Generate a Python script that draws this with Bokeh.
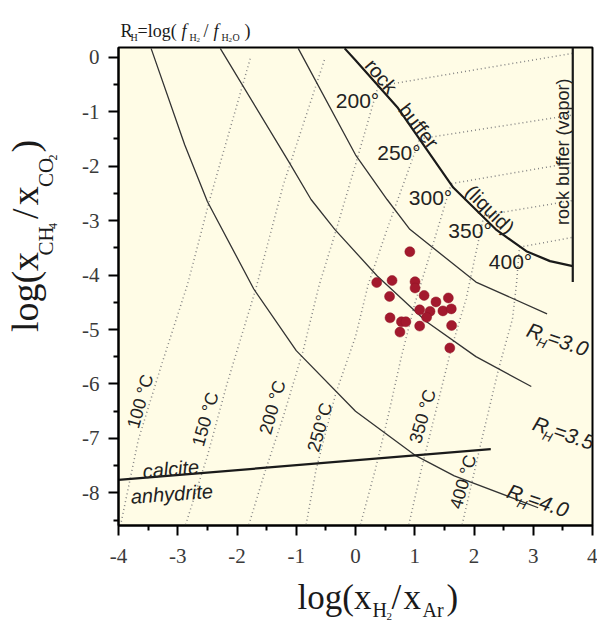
import math
from bokeh.plotting import figure
from bokeh.layouts import column, row
from bokeh.models import Range1d, FixedTicker
from bokeh.core.properties import value
from bokeh.embed import file_html
from bokeh.resources import INLINE

# ---------------- data ----------------
x_ticks = [-4, -3, -2, -1, 0, 1, 2, 3, 4]
x_tick_labels = ["-4", "-3", "-2", "-1", "0", "1", "2", "3", "4"]
x_minor = [-3.5, -2.5, -1.5, -0.5, 0.5, 1.5, 2.5, 3.5]
y_ticks = [0, -1, -2, -3, -4, -5, -6, -7, -8]
y_tick_labels = ["0", "-1", "-2", "-3", "-4", "-5", "-6", "-7", "-8"]
y_minor = [-0.5, -1.5, -2.5, -3.5, -4.5, -5.5, -6.5, -7.5, -8.5]

# iso-R_H curves
rh30_x = [-0.967, 0.0, 0.533, 0.917, 2.033, 3.233]
rh30_y = [0.164, -1.790, -2.612, -3.160, -4.128, -4.712]
rh35_x = [-2.283, -1.117, -0.75, -0.35, 0.367, 1.2, 2.033, 2.967]
rh35_y = [0.164, -1.936, -2.612, -3.160, -4.018, -4.858, -5.498, -6.046]
rh40_x = [-3.45, -2.883, -2.5, -1.717, -1.0, 0.0, 1.0, 1.667, 3.083]
rh40_y = [0.164, -1.607, -2.648, -4.256, -5.388, -6.502, -7.306, -7.689, -8.274]

# rock buffer (liquid) and rock buffer (vapor)
buf_liq_x = [-0.183, 0.0, 0.717, 1.65, 2.367, 2.883, 3.283, 3.667]
buf_liq_y = [0.164, -0.055, -0.932, -2.393, -3.160, -3.562, -3.744, -3.836]
buf_vap_x = [3.667, 3.667]
buf_vap_y = [0.18, -4.128]

# calcite / anhydrite boundary
cal_x = [-4.0, 2.283]
cal_y = [-7.763, -7.196]

# isotherms, liquid field
iso100_x = [-3.967, -3.667, -3.283, -2.833, -2.45, -1.77]
iso100_y = [-8.603, -7.032, -5.68, -4.164, -2.575, 0.0]
iso150_x = [-2.867, -2.5, -2.167, -1.683, -1.217, -0.51]
iso150_y = [-8.584, -7.324, -5.991, -4.256, -2.338, 0.0]
iso200_x = [-1.8, -1.55, -1.217, -0.883, -0.617, -0.333, 0.0, 0.383]
iso200_y = [-8.584, -7.69, -6.593, -5.388, -4.2, -3.196, -1.973, -0.53]
iso250_x = [-0.833, -0.667, -0.333, 0.0, 0.217, 0.533, 1.083]
iso250_y = [-8.584, -7.580, -6.174, -5.132, -4.164, -3.160, -1.498]
iso300_x = [0.083, 0.333, 0.55, 0.767, 1.0, 1.283, 1.617]
iso300_y = [-8.584, -7.58, -6.594, -5.534, -4.53, -3.525, -2.320]
iso350_x = [0.9, 1.117, 1.367, 1.617, 1.867, 2.167]
iso350_y = [-8.584, -7.543, -6.447, -5.352, -4.438, -2.904]
iso400_x = [1.8, 2.117, 2.417, 2.65, 2.717, 2.767]
iso400_y = [-8.584, -7.087, -5.717, -4.804, -4.164, -3.489]

# isotherms, vapor field (200..400 C)
vap_x = [[0.383, 3.667], [1.083, 3.667], [1.617, 3.667], [2.167, 3.667], [2.767, 3.667]]
vap_y = [[-0.53, 0.073], [-1.498, -1.059], [-2.320, -1.936], [-2.904, -2.630], [-3.489, -3.306]]

# fluid inclusion samples
pts_x = [0.917, 0.358, 0.617, 1.005, 1.005, 0.575, 1.158, 1.358, 1.567, 1.083, 1.258,
         1.475, 1.617, 1.2, 0.583, 0.775, 0.85, 0.75, 1.083, 1.622, 1.592]
pts_y = [-3.571, -4.137, -4.100, -4.122, -4.237, -4.393, -4.374, -4.493, -4.420, -4.639, -4.667,
         -4.658, -4.621, -4.776, -4.785, -4.858, -4.858, -5.047, -4.937, -4.926, -5.339]

# ---------------- layout sizes ----------------
XR = (-4, 4)
YR = (-8.6, 0.18)
FW, FH = 474, 478
LEFT_W = 78          # width of the y-label strip
TITLE_H = 45
MB_L, MB_R, MB_T, MB_B = 40, 5, 2, 44
MAIN_H = MB_T + FH + MB_B
XLAB_H = 52
TOTAL_W = LEFT_W + MB_L + FW + MB_R
BASE_FIX = 0.34      # alphabetic-baseline correction (fraction of font size)

SANS = "Liberation Sans"
SERIF = "Liberation Serif"

p = figure(frame_width=FW, frame_height=FH, x_range=Range1d(*XR), y_range=Range1d(*YR),
           output_backend="svg", toolbar_location=None,
           min_border_left=MB_L, min_border_right=MB_R, min_border_top=MB_T, min_border_bottom=MB_B)
p.background_fill_color = "#FFFCE6"
p.border_fill_color = "white"
p.outline_line_color = "black"
p.outline_line_width = 2
p.grid.visible = False

kx = FW / (XR[1] - XR[0])
ky = FH / (YR[1] - YR[0])

for ax in (p.xaxis[0], p.yaxis[0]):
    ax.major_tick_out = 10
    ax.major_tick_in = 0
    ax.minor_tick_out = 5
    ax.minor_tick_in = 0
    ax.axis_line_width = 2
    ax.major_tick_line_width = 2
    ax.minor_tick_line_width = 2
    ax.major_label_text_font = SERIF
    ax.major_label_text_font_size = "21px"
    ax.major_label_text_color = "#3a3a3a"
p.xaxis.major_label_standoff = 13
p.yaxis.major_label_standoff = 9

p.xaxis.ticker = FixedTicker(ticks=x_ticks, minor_ticks=x_minor)
p.yaxis.ticker = FixedTicker(ticks=y_ticks, minor_ticks=y_minor)
p.xaxis.major_label_overrides = dict(zip(x_ticks, x_tick_labels))
p.yaxis.major_label_overrides = dict(zip(y_ticks, y_tick_labels))

dot = dict(line_color="#858585", line_width=1.5, line_dash="1 3")
for xs, ys in [(iso100_x, iso100_y), (iso150_x, iso150_y), (iso200_x, iso200_y),
               (iso250_x, iso250_y), (iso300_x, iso300_y), (iso350_x, iso350_y),
               (iso400_x, iso400_y)]:
    p.line(xs, ys, **dot)
p.multi_line(vap_x, vap_y, **dot)

for xs, ys in [(rh30_x, rh30_y), (rh35_x, rh35_y), (rh40_x, rh40_y)]:
    p.line(xs, ys, line_color="#333333", line_width=1.3)

p.line(buf_liq_x, buf_liq_y, line_color="#1a1a1a", line_width=2.2)
p.line(buf_vap_x, buf_vap_y, line_color="#1a1a1a", line_width=2.2)
p.line(cal_x, cal_y, line_color="#1a1a1a", line_width=2.2)

p.scatter(pts_x, pts_y, size=10, fill_color="#A3192D", line_color="#8E1526", line_width=0.5)


def gtext(fig, x, y, t, size, angle=0.0, style="normal", align="center", baseline="middle",
          font=SANS, color="#222222", sx=1.0, sy=1.0):
    if baseline == "alphabetic":
        up = BASE_FIX * size
        x = x - up * math.sin(angle) / sx
        y = y + up * math.cos(angle) / sy
    fig.text([x], [y], text=[t], angle=angle, text_font=value(font), text_font_size=f"{size}px",
             text_font_style=style, text_align=align, text_baseline=baseline, text_color=color)


def rich(fig, pieces, x0, y0, angle_deg, sx=1.0, sy=1.0, color="#222222"):
    th = math.radians(angle_deg)
    for t, u, v, size, font, style in pieces:
        dx = (u * math.cos(th) - v * math.sin(th)) / sx
        dy = (u * math.sin(th) + v * math.cos(th)) / sy
        gtext(fig, x0 + dx, y0 + dy, t, size, angle=th, style=style, align="left",
              baseline="alphabetic", font=font, color=color, sx=sx, sy=sy)


# isotherm labels (liquid field)
iso_lab = [("100 °C", -3.633, -6.32), ("150 °C", -2.533, -6.648), ("200 °C", -1.40, -6.429),
           ("250°C", -0.60, -6.794), ("350 °C", 1.133, -6.594), ("400 °C", 1.817, -7.799)]
for t, x, y in iso_lab:
    gtext(p, x, y, t, 18, angle=math.radians(74))

# temperature labels on the rock buffer
buf_lab = [("200°", -0.333, -0.932), ("250°", 0.367, -1.881), ("300°", 0.90, -2.703),
           ("350°", 1.567, -3.306), ("400°", 2.25, -3.890)]
for t, x, y in buf_lab:
    gtext(p, x, y, t, 21, align="left", baseline="alphabetic", sx=kx, sy=ky)

gtext(p, 0.433, -0.347, "rock", 20, angle=math.radians(-50))
gtext(p, 1.067, -1.260, "buffer", 20, angle=math.radians(-52))
gtext(p, 2.267, -2.795, "(liquid)", 20, angle=math.radians(-45))
gtext(p, 3.50, -1.735, "rock buffer (vapor)", 18, angle=math.radians(90))

gtext(p, -3.117, -7.562, "calcite", 20, angle=math.radians(5), style="italic")
gtext(p, -3.10, -8.018, "anhydrite", 20, angle=math.radians(4), style="italic")

# R_H labels
for val, x0, y0 in [("=3.0", 2.867, -5.114), ("=3.5", 2.967, -6.831), ("=4.0", 2.533, -8.073)]:
    rich(p, [("R", 0, 0, 21, SANS, "italic"),
             ("H", 13, -6, 13, SANS, "italic"),
             (val, 22, 0, 21, SANS, "italic")], x0, y0, -19, sx=kx, sy=ky)


def strip(w, h):
    f = figure(width=w, height=h, x_range=Range1d(0, w), y_range=Range1d(0, h),
               x_axis_type=None, y_axis_type=None, output_backend="svg",
               toolbar_location=None, min_border=0)
    f.outline_line_color = None
    f.background_fill_color = "white"
    f.border_fill_color = "white"
    return f


# title strip: R_H = log(f_H2 / f_H2O)
top = strip(TOTAL_W, TITLE_H)
rich(top, [("R", 0, 0, 18, SERIF, "normal"),
           ("H", 10, -3, 10, SERIF, "normal"),
           ("=log(", 17, 0, 18, SERIF, "normal"),
           ("f", 61, 0, 18, SERIF, "italic"),
           ("H", 69, -3, 10, SERIF, "normal"),
           ("2", 76, -5, 7, SERIF, "normal"),
           ("/", 83, 0, 18, SERIF, "normal"),
           ("f", 93, 0, 18, SERIF, "italic"),
           ("H", 101, -3, 10, SERIF, "normal"),
           ("2", 108, -5, 7, SERIF, "normal"),
           ("O", 112, -3, 10, SERIF, "normal"),
           (")", 124, 0, 18, SERIF, "normal")], 120, 8, 0, color="#1a1a1a")

# y-label strip: log(x_CH4 / x_CO2)
left = strip(LEFT_W, MAIN_H)
rich(left, [("log(x", 0, 0, 38, SERIF, "normal"),
            ("CH", 84, -16, 21, SERIF, "normal"),
            ("4", 113, -20, 12, SERIF, "normal"),
            ("/", 124, 0, 38, SERIF, "normal"),
            ("x", 139, 0, 38, SERIF, "normal"),
            ("CO", 159, -16, 21, SERIF, "normal"),
            ("2", 188, -20, 12, SERIF, "normal"),
            (")", 197, 0, 38, SERIF, "normal")], 37, 212, 90, color="#1a1a1a")

# x-label strip: log(x_H2 / x_Ar)
bot = strip(TOTAL_W, XLAB_H)
rich(bot, [("log(x", 0, 0, 35, SERIF, "normal"),
           ("H", 75, -7, 20, SERIF, "normal"),
           ("2", 89, -11, 11, SERIF, "normal"),
           ("/", 94, 0, 35, SERIF, "normal"),
           ("x", 106, 0, 35, SERIF, "normal"),
           ("Ar", 125, -7, 20, SERIF, "normal"),
           (")", 149, 0, 35, SERIF, "normal")], 297, 12, 0, color="#1a1a1a")

layout = column(top, row(left, p), bot)
open("out.html", "w").write(file_html(layout, INLINE))
